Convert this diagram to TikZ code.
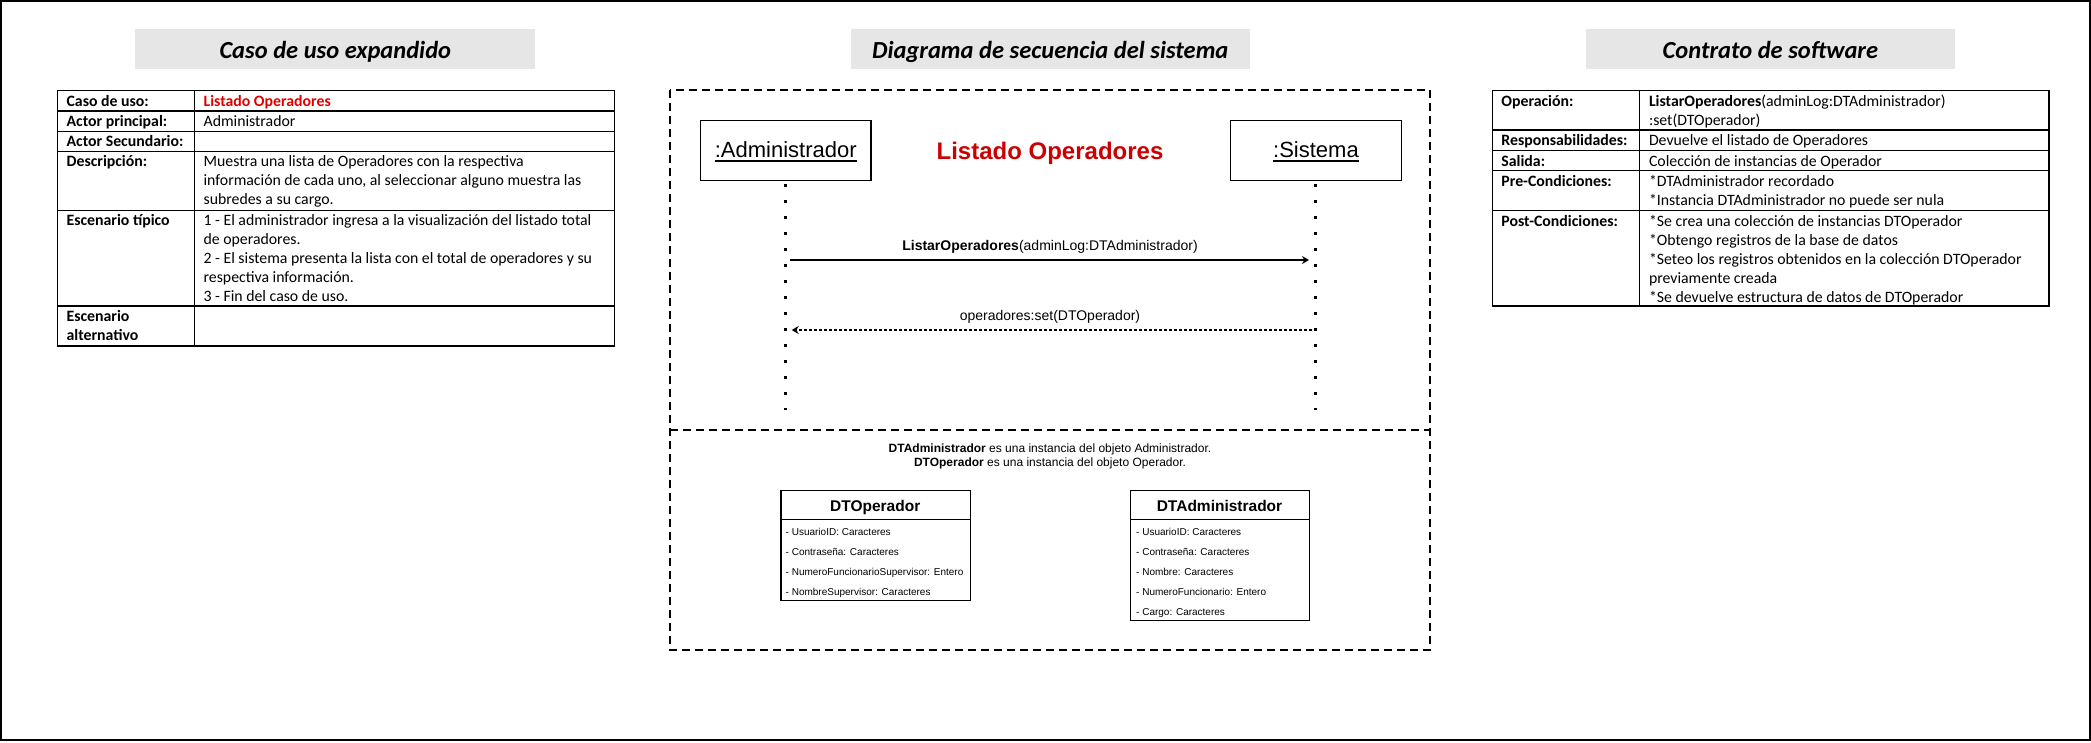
\documentclass[tikz,border=0pt]{standalone}
\usepackage{fontspec}
\setmainfont{Carlito}
\newfontfamily\arialf{Liberation Sans}
\usetikzlibrary{arrows.meta}
\definecolor{hdrgray}{RGB}{230,230,230}
\definecolor{tabred}{RGB}{224,0,0}
\definecolor{midred}{RGB}{204,0,0}
\begin{document}
\begin{tikzpicture}[x=1pt,y=-1pt,
  hdr/.style={fill=hdrgray},
  ttl/.style={anchor=base,inner sep=0,font=\fontsize{24.5}{28}\selectfont\bfseries\itshape},
  tab/.style={line width=1.2pt},
  cl/.style={anchor=base west,inner sep=0,font=\fontsize{15.8}{19}\selectfont},
  cb/.style={anchor=base west,inner sep=0,font=\fontsize{15.8}{19}\selectfont\bfseries},
  dbox/.style={line width=1.2pt,dash pattern=on 8pt off 5pt},
  actor/.style={draw,line width=1.3pt,minimum width=170.6pt,minimum height=60pt,anchor=north west,inner sep=0},
  atxt/.style={anchor=base,inner sep=0,font=\arialf\fontsize{22}{26}\selectfont},
  life/.style={line width=3pt,dash pattern=on 3pt off 13pt},
  msg/.style={line width=1.3pt,-{Stealth[length=7pt,width=8pt]}},
  ret/.style={line width=1.1pt,dash pattern=on 3pt off 2pt,-{Stealth[length=7pt,width=8pt]}},
  mlab/.style={anchor=base,inner sep=0,font=\arialf\fontsize{14}{17}\selectfont},
  note/.style={anchor=base,inner sep=0,font=\arialf\fontsize{12}{14}\selectfont},
  cls/.style={draw,line width=1.2pt,anchor=north west,inner sep=0},
  clt/.style={anchor=base,inner sep=0,font=\arialf\fontsize{15.5}{18}\selectfont\bfseries},
  att/.style={anchor=base west,inner sep=0,font=\arialf\fontsize{10}{12}\selectfont}
]
\useasboundingbox (0,0) rectangle (2091,742);
\draw[line width=2pt] (1,1) rectangle (2090,740);

% ---------- headers ----------
\fill[hdr] (135.4,29.3) rectangle (535.3,69.3);
\node[ttl] (t1) at (335.3,58.3) {Caso de uso expandido};
\fill[hdr] (851,29.3) rectangle (1249.5,69.3);
\node[ttl] (t2) at (1050.2,58.3) {Diagrama de secuencia del sistema};
\fill[hdr] (1586,29.3) rectangle (1954.7,69.3);
\node[ttl] (t3) at (1770.4,58.3) {Contrato de software};

% ---------- left table ----------
\draw[tab] (57.3,90.7) rectangle (614.2,346);
\draw[tab] (194.3,90.7) -- (194.3,346);
\foreach \yy in {111,131.3,151.3,210.3,306} \draw[tab] (57.3,\yy) -- (614.2,\yy);
\node[cb] (la1) at (66.4,106) {Caso de uso:};
\node[cb] (la2) at (66.4,126.3) {Actor principal:};
\node[cb] (la3) at (66.4,146.6) {Actor Secundario:};
\node[cb] (la4) at (66.4,166.6) {Descripción:};
\node[cb] (la5) at (66.4,225.6) {Escenario típico};
\node[cb] (la6) at (66.4,321.3) {Escenario};
\node[cb] (la7) at (66.4,340.3) {alternativo};
\node[cb,text=tabred] (lb1) at (203.4,106) {Listado Operadores};
\node[cl] (lb2) at (203.4,126.3) {Administrador};
\node[cl] (lb3) at (203.4,166.6) {Muestra una lista de Operadores con la respectiva};
\node[cl] (lb4) at (203.4,185.6) {información de cada uno, al seleccionar alguno muestra las};
\node[cl] (lb5) at (203.4,204.6) {subredes a su cargo.};
\node[cl] (lb6) at (203.4,225.6) {1 - El administrador ingresa a la visualización del listado total};
\node[cl] (lb7) at (203.4,244.6) {de operadores.};
\node[cl] (lb8) at (203.4,263.6) {2 - El sistema presenta la lista con el total de operadores y su};
\node[cl] (lb9) at (203.4,282.6) {respectiva información.};
\node[cl] (lb10) at (203.4,301.6) {3 - Fin del caso de uso.};

% ---------- right table ----------
\draw[tab] (1492.2,90.7) rectangle (2049,306);
\draw[tab] (1639.8,90.7) -- (1639.8,306);
\foreach \yy in {130,150.7,170.7,210.7} \draw[tab] (1492.2,\yy) -- (2049,\yy);
\node[cb] (ra1) at (1501.2,106) {Operación:};
\node[cb] (ra2) at (1501.2,145.3) {Responsabilidades:};
\node[cb] (ra3) at (1501.2,166) {Salida:};
\node[cb] (ra4) at (1501.2,186) {Pre-Condiciones:};
\node[cb] (ra5) at (1501.2,226) {Post-Condiciones:};
\node[cl] (rb1) at (1648.8,106) {\textbf{ListarOperadores}(adminLog:DTAdministrador)};
\node[cl] (rb2) at (1648.8,125) {:set(DTOperador)};
\node[cl] (rb3) at (1648.8,145.3) {Devuelve el listado de Operadores};
\node[cl] (rb4) at (1648.8,166) {Colección de instancias de Operador};
\node[cl] (rb5) at (1648.8,186) {*DTAdministrador recordado};
\node[cl] (rb6) at (1648.8,205) {*Instancia DTAdministrador no puede ser nula};
\node[cl] (rb7) at (1648.8,226) {*Se crea una colección de instancias DTOperador};
\node[cl] (rb8) at (1648.8,245) {*Obtengo registros de la base de datos};
\node[cl] (rb9) at (1648.8,264) {*Seteo los registros obtenidos en la colección DTOperador};
\node[cl] (rb10) at (1648.8,283) {previamente creada};
\node[cl] (rb11) at (1648.8,302) {*Se devuelve estructura de datos de DTOperador};

% ---------- sequence diagram ----------
\draw[dbox] (670,90) rectangle (1430,650);
\draw[dbox] (670,430) -- (1430,430);

\node[actor] (adm) at (699.8,120) {};
\node[actor] (sis) at (1230,120) {};
\node[atxt] (admt) at (adm.center |- 0,157.5) {:Administrador};
\node[atxt] (sist) at (sis.center |- 0,157.5) {:Sistema};
\draw[line width=1.6pt] ([yshift=-3.3pt]admt.base west) -- ([yshift=-3.3pt]admt.base east);
\draw[line width=1.6pt] ([yshift=-3.3pt]sist.base west) -- ([yshift=-3.3pt]sist.base east);
\node[anchor=base,inner sep=0,text=midred,font=\arialf\fontsize{24}{28}\selectfont\bfseries] (lot) at (1050,159.3) {Listado Operadores};

\coordinate (admend) at (adm.center |- 0,410);
\coordinate (sisend) at (sis.center |- 0,410);
\draw[life] ([yshift=-2.5pt]adm.south) -- (admend);
\draw[life] ([yshift=-2.5pt]sis.south) -- (sisend);

\coordinate (m1a) at (790,260);
\coordinate (m1b) at (1309,260);
\draw[msg] (m1a) -- (m1b);
\node[mlab] (m1l) at (1050,250) {\textbf{ListarOperadores}(adminLog:DTAdministrador)};
\coordinate (m2a) at (1311.7,330);
\coordinate (m2b) at (791.7,330);
\draw[ret] (m2a) -- (m2b);
\node[mlab] (m2l) at (1050,320) {operadores:set(DTOperador)};

\node[note] (n1) at (1050,452.5) {\textbf{DTAdministrador} es una instancia del objeto Administrador.};
\node[note] (n2) at (1050,466.5) {\textbf{DTOperador} es una instancia del objeto Operador.};

% class DTOperador
\node[cls,minimum width=189.6pt,minimum height=110pt] (dto) at (780.4,490) {};
\draw[line width=1.2pt] (780.4,519.3) -- (970,519.3);
\node[clt] (dtot) at (875.2,511) {DTOperador};
\node[att] (o1) at (785.5,535) {- UsuarioID: Caracteres};
\node[att] (o2) at (785.5,555) {- Contraseña: Caracteres};
\node[att] (o3) at (785.5,575) {- NumeroFuncionarioSupervisor: Entero};
\node[att] (o4) at (785.5,595) {- NombreSupervisor: Caracteres};

% class DTAdministrador
\node[cls,minimum width=179pt,minimum height=130pt] (dta) at (1130,490) {};
\draw[line width=1.2pt] (1130,519.3) -- (1309,519.3);
\node[clt] (dtat) at (1219.5,511) {DTAdministrador};
\node[att] (a1) at (1136,535) {- UsuarioID: Caracteres};
\node[att] (a2) at (1136,555) {- Contraseña: Caracteres};
\node[att] (a3) at (1136,575) {- Nombre: Caracteres};
\node[att] (a4) at (1136,595) {- NumeroFuncionario: Entero};
\node[att] (a5) at (1136,615) {- Cargo: Caracteres};
\end{tikzpicture}
\end{document}
